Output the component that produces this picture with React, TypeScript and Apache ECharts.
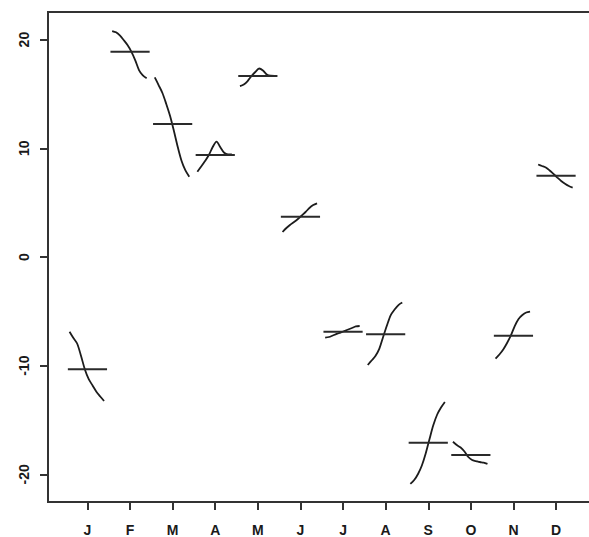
import React, { useEffect, useRef } from "react";
import * as echarts from "echarts";

const monthLabels = ["J", "F", "M", "A", "M", "J", "J", "A", "S", "O", "N", "D"];
const monthPositions = [1, 2, 3, 4, 5, 6, 7, 8, 9, 10, 11, 12];
const yTicks = [-20, -10, 0, 10, 20];

const jan = [-6.87, -7.45, -7.98, -9.11, -10.35, -11.24, -11.82, -12.39, -12.83, -13.25];
const feb = [20.79, 20.67, 20.38, 19.96, 19.5, 18.9, 18.12, 17.2, 16.7, 16.44];
const mar = [16.53, 15.82, 15.09, 14.08, 12.97, 11.59, 10.12, 8.83, 7.96, 7.39];
const apr = [7.85, 8.32, 8.83, 9.38, 10.12, 10.61, 10.09, 9.59, 9.45, 9.45];
const may = [15.73, 15.87, 16.19, 16.65, 17.02, 17.34, 17.16, 16.79, 16.68, 16.67];
const jun = [2.3, 2.67, 2.97, 3.22, 3.5, 3.82, 4.14, 4.51, 4.78, 4.94];
const jul = [-7.42, -7.36, -7.22, -7.08, -6.95, -6.81, -6.67, -6.53, -6.39, -6.35];
const aug = [-9.94, -9.52, -9.11, -8.46, -7.36, -6.3, -5.34, -4.83, -4.42, -4.19];
const sep = [-20.88, -20.52, -19.96, -19.18, -18.08, -16.74, -15.46, -14.49, -13.85, -13.34];
const oct = [-17.0, -17.3, -17.53, -17.89, -18.4, -18.68, -18.77, -18.86, -18.92, -19.04];
const nov = [-9.34, -8.97, -8.51, -7.91, -7.22, -6.35, -5.7, -5.34, -5.11, -5.03];
const dec = [8.51, 8.37, 8.23, 7.96, 7.64, 7.31, 6.99, 6.74, 6.53, 6.39];

const monthMeans = [-10.33, 18.89, 12.24, 9.38, 16.65, 3.71, -6.87, -7.11, -17.08, -18.22, -7.24, 7.48];

const CURVE_START = -0.42;
const CURVE_END = 0.39;
const MEAN_HALF = 0.46;

export default function App() {
  const ref = useRef<HTMLDivElement>(null);

  useEffect(() => {
    if (!ref.current) return;
    const chart = echarts.init(ref.current, null, { renderer: "svg" });
    const subseries = [jan, feb, mar, apr, may, jun, jul, aug, sep, oct, nov, dec];
    const series: any[] = [];
    subseries.forEach((vals, idx) => {
      const m = monthPositions[idx];
      const n = vals.length;
      series.push({
        type: "line",
        data: vals.map((v, k) => [m + CURVE_START + (k * (CURVE_END - CURVE_START)) / (n - 1), v]),
        smooth: 0.3,
        showSymbol: false,
        silent: true,
        lineStyle: { color: "#1c1c1c", width: 1.8 },
      });
      series.push({
        type: "line",
        data: [
          [m - MEAN_HALF, monthMeans[idx]],
          [m + MEAN_HALF, monthMeans[idx]],
        ],
        showSymbol: false,
        silent: true,
        lineStyle: { color: "#2a2a2a", width: 2 },
      });
    });

    const labelStyle = {
      fontFamily: "Liberation Sans",
      fontWeight: "bold" as const,
      fontSize: 14,
      color: "#1a1a1a",
    };

    chart.setOption({
      animation: false,
      backgroundColor: "#ffffff",
      grid: {
        left: 48,
        right: 0.5,
        top: 12,
        bottom: 35,
        show: true,
        borderColor: "#333333",
        borderWidth: 2,
        backgroundColor: "transparent",
      },
      xAxis: {
        type: "value",
        min: 0.074,
        max: 12.926,
        splitLine: { show: false },
        axisLine: { show: true, onZero: false, lineStyle: { color: "#333333", width: 2 } },
        axisTick: {
          show: true,
          customValues: monthPositions,
          length: 8,
          lineStyle: { color: "#333333", width: 2 },
        },
        axisLabel: {
          ...labelStyle,
          customValues: monthPositions,
          margin: 21,
          formatter: (v: number) => monthLabels[Math.round(v) - 1] ?? "",
        },
      },
      yAxis: {
        type: "value",
        min: -22.54,
        max: 22.54,
        splitLine: { show: false },
        axisLine: { show: true, onZero: false, lineStyle: { color: "#333333", width: 2 } },
        axisTick: {
          show: true,
          customValues: yTicks,
          length: 8,
          lineStyle: { color: "#333333", width: 2 },
        },
        axisLabel: {
          ...labelStyle,
          customValues: yTicks,
          rotate: 90,
          margin: 17,
          formatter: (v: number) => String(v),
        },
      },
      series,
    });
    return () => chart.dispose();
  }, []);

  return (
    <div
      style={{
        position: "absolute",
        left: 0,
        top: 0,
        width: 589,
        height: 537,
        overflow: "hidden",
        background: "#fff",
      }}
    >
      <div ref={ref} style={{ width: 596, height: 537 }} />
    </div>
  );
}
